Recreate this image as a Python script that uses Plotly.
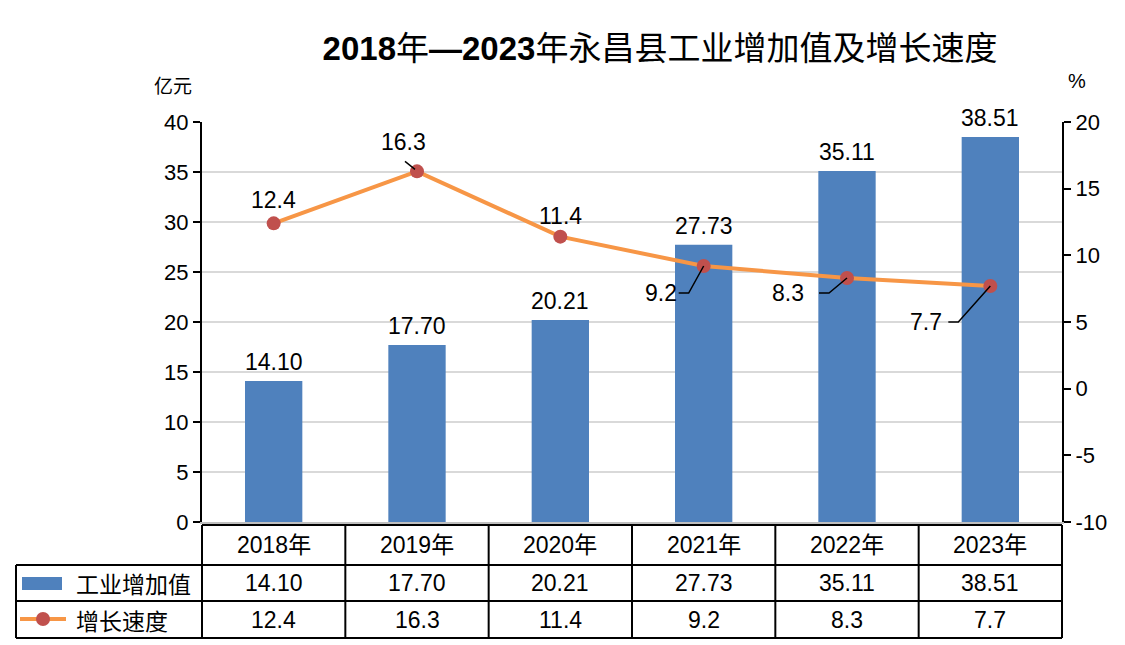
import re
import plotly.graph_objects as go

# data
years = ["2018年", "2019年", "2020年", "2021年", "2022年", "2023年"]
value_added = [14.10, 17.70, 20.21, 27.73, 35.11, 38.51]
growth = [12.4, 16.3, 11.4, 9.2, 8.3, 7.7]
right_ticks = [-10, -5, 0, 5, 10, 15, 20]

bar_name = "工业增加值"
line_name = "增长速度"
title_text = "2018年—2023年永昌县工业增加值及增长速度"

BLUE = "#4F81BD"
ORANGE = "#F79646"
RED = "#C0504D"
GRID = "#D9D9D9"
FONT = "Liberation Sans, Arial, Noto Sans CJK SC, sans-serif"
CJK = "Noto Sans CJK SC, sans-serif"

W, H = 1125, 645
L, R, T, B = 202, 63, 122, 123


def px_x(p):
    # pixel column -> paper x
    return (p - L) / (W - L - R)


def px_y(p):
    # pixel row -> paper y
    return (H - B - p) / (H - T - B)


fig = go.Figure()

fig.add_trace(go.Bar(x=years, y=value_added, name=bar_name,
                     marker=dict(color=BLUE, line=dict(width=0)), width=0.4))

fig.add_trace(go.Scatter(x=years, y=growth, name=line_name, yaxis="y2",
                         mode="lines+markers",
                         line=dict(color=ORANGE, width=4),
                         marker=dict(color=RED, size=14)))

annotations = []
shapes = []
label_font = dict(size=23, color="black", family=FONT)

# bar value labels
for i, v in enumerate(value_added):
    annotations.append(dict(x=years[i], y=v, xref="x", yref="y", text=f"{v:.2f}",
                            showarrow=False, yanchor="middle", yshift=19,
                            font=label_font))

# growth labels: offsets in pixels from the point, leader line (dx, dy) if any
label_pos = [(0, 23, None), (-14, 29, [(-12, 10), (-2, 2)]), (0, 21, None),
             (-43, -27, [(0, 0), (-15, -27), (-25, -27)]),
             (-59, -15, [(0, 0), (-18, -15), (-28, -15)]),
             (-64, -36, [(0, 0), (-32, -36), (-42, -36)])]

for i, (dx, dy, lead) in enumerate(label_pos):
    annotations.append(dict(x=years[i], y=growth[i], xref="x", yref="y2",
                            text=f"{growth[i]:.1f}", showarrow=False,
                            xanchor="center", yanchor="middle",
                            xshift=dx, yshift=dy, font=label_font))
    if lead:
        path = "M" + " L".join(f"{a},{b}" for a, b in lead)
        shapes.append(dict(type="path", path=path, xref="x", yref="y2",
                           xsizemode="pixel", ysizemode="pixel",
                           xanchor=i, yanchor=growth[i],
                           line=dict(color="black", width=1.5)))

# data table under the plot
line_k = dict(color="black", width=2)
top, r1, r2, bot = 525, 565, 601, 638
left_edge = 16
shapes.append(dict(type="line", xref="paper", yref="paper", x0=0, x1=1,
                   y0=px_y(top), y1=px_y(top), line=line_k))
for yy in (r1, r2, bot):
    shapes.append(dict(type="line", xref="paper", yref="paper",
                       x0=px_x(left_edge), x1=1, y0=px_y(yy), y1=px_y(yy), line=line_k))
for k in range(len(years) + 1):
    xx = k / len(years)
    shapes.append(dict(type="line", xref="paper", yref="paper", x0=xx, x1=xx,
                       y0=px_y(top), y1=px_y(bot), line=line_k))
shapes.append(dict(type="line", xref="paper", yref="paper",
                   x0=px_x(left_edge), x1=px_x(left_edge),
                   y0=px_y(r1), y1=px_y(bot), line=line_k))

cell_font = dict(size=23, color="black", family=FONT)
rows = [
    ((top + r1) / 2, years),
    ((r1 + r2) / 2, [f"{v:.2f}" for v in value_added]),
    ((r2 + bot) / 2, [f"{g:.1f}" for g in growth]),
]
for ypix, cells in rows:
    for i, cell in enumerate(cells):
        annotations.append(dict(x=years[i], y=px_y(ypix), xref="x", yref="paper",
                                text=cell, showarrow=False, xanchor="center",
                                yanchor="middle", font=cell_font))

# legend keys in the table
shapes.append(dict(type="rect", xref="paper", yref="paper",
                   x0=px_x(22), x1=px_x(62), y0=px_y(577), y1=px_y(590),
                   fillcolor=BLUE, line=dict(width=0)))
shapes.append(dict(type="line", xref="paper", yref="paper",
                   x0=px_x(20), x1=px_x(66), y0=px_y(619), y1=px_y(619),
                   line=dict(color=ORANGE, width=4)))
shapes.append(dict(type="circle", xref="paper", yref="paper",
                   x0=px_x(36), x1=px_x(50), y0=px_y(612), y1=px_y(626),
                   fillcolor=RED, line=dict(width=0)))
for ypix, name in (((r1 + r2) / 2, bar_name), ((r2 + bot) / 2, line_name)):
    annotations.append(dict(x=px_x(74), y=px_y(ypix), xref="paper", yref="paper",
                            xanchor="left", yanchor="middle", text=name,
                            showarrow=False,
                            font=dict(size=23, color="black", family=CJK)))

# unit labels
annotations.append(dict(x=px_x(173), y=px_y(84), xref="paper", yref="paper",
                        text="亿元", showarrow=False, xanchor="center", yanchor="middle",
                        font=dict(size=19, color="black", family=CJK)))
annotations.append(dict(x=px_x(1077), y=px_y(81), xref="paper", yref="paper",
                        text="%", showarrow=False, xanchor="center", yanchor="middle",
                        font=dict(size=20, color="black", family=FONT)))

# digits of the title are bold, CJK characters are not
title_html = re.sub(r"([0-9—]+)", r"<b>\1</b>", title_text)

fig.update_layout(
    width=W, height=H,
    margin=dict(l=L, r=R, t=T, b=B),
    plot_bgcolor="white", paper_bgcolor="white",
    showlegend=False,
    title=dict(text=title_html, x=660 / W, xanchor="center",
               y=1 - 48 / H, yanchor="middle",
               font=dict(size=33, color="black", family=FONT)),
    xaxis=dict(type="category", range=[-0.5, 5.5], showticklabels=False,
               ticks="", showgrid=False, showline=True, linecolor="#BFBFBF",
               linewidth=2),
    yaxis=dict(range=[0, 40], dtick=5, showgrid=True, gridcolor=GRID, gridwidth=1.5,
               zeroline=False, showline=True, linecolor="black", linewidth=2,
               ticks="outside", ticklen=7, tickwidth=2, tickcolor="black",
               tickfont=dict(size=22, color="black", family=FONT)),
    yaxis2=dict(range=[-10, 20], tickvals=right_ticks,
                ticktext=[str(t) for t in right_ticks],
                overlaying="y", side="right",
                showgrid=False, zeroline=False, showline=True, linecolor="black",
                linewidth=2, ticks="outside", ticklen=7, tickwidth=2,
                tickcolor="black",
                tickfont=dict(size=22, color="black", family=FONT)),
    shapes=shapes,
    annotations=annotations,
)

fig.write_html("out.html", config={"displayModeBar": False},
               post_script="document.body.style.margin='0';")
